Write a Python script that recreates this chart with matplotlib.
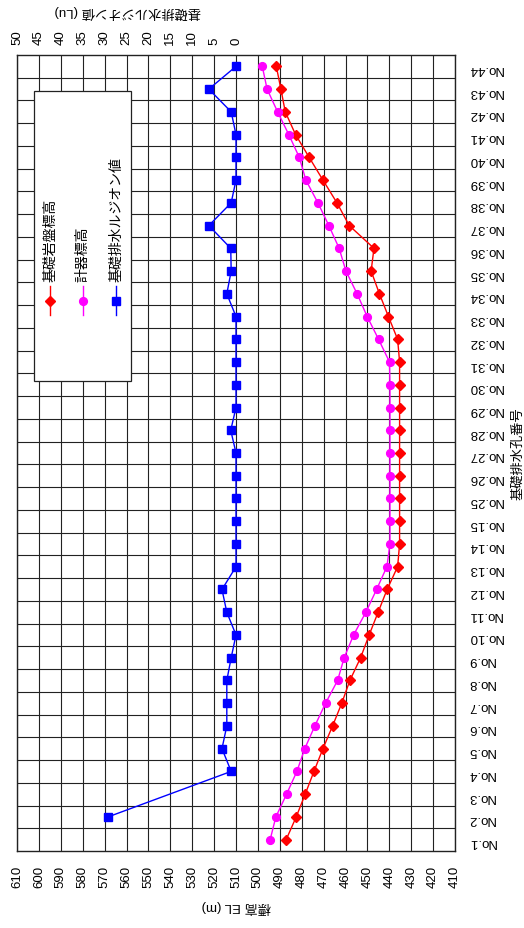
import numpy as np
import matplotlib
matplotlib.use("Agg")
import matplotlib.pyplot as plt
from matplotlib.lines import Line2D
from matplotlib.patches import Rectangle

plt.rcParams['font.family'] = ['Liberation Sans', 'Noto Sans CJK JP', 'DejaVu Sans']

# 基礎排水孔番号
holes = ['No.%d' % i for i in range(1, 16)] + ['No.%d' % i for i in range(25, 45)]

# 基礎岩盤標高 (m)
bedrock_el = [487.1, 482.5, 478.4, 474.4, 470.3, 465.9, 461.7, 458.0, 453.1, 449.2,
              445.1, 441.0, 436.2, 435.3, 435.3,
              435.3, 435.3, 435.3, 435.3, 435.3, 435.3, 435.3, 436.2, 440.4, 444.5,
              448.3, 447.0, 458.3, 463.9, 470.3, 476.6, 482.8, 487.5, 489.5, 491.6]

# 計器標高 (m)
gauge_el = [494.4, 491.8, 486.9, 482.2, 478.6, 474.0, 469.1, 463.6, 460.6, 456.3,
            450.7, 445.8, 441.1, 439.7, 439.7,
            439.7, 439.7, 439.7, 439.7, 439.7, 439.7, 439.9, 444.9, 450.1, 454.7,
            459.8, 462.9, 467.6, 472.6, 478.1, 481.1, 485.9, 491.0, 495.8, 498.0]

# 基礎排水ルジオン値 (Lu)  (No.1, No.3 は欠測)
lugeon = [np.nan, 29.2, np.nan, 1.1, 3.2, 2.1, 2.1, 2.1, 1.1, 0.0,
          2.1, 3.2, 0.0, 0.0, 0.0,
          0.0, 0.0, 0.0, 1.2, 0.0, 0.0, 0.0, 0.0, 0.0, 2.1,
          1.1, 1.2, 6.2, 1.1, 0.0, 0.0, 0.0, 1.1, 6.2, 0.0]

el_ticks = np.arange(410, 611, 10)
lu_ticks = np.arange(0, 51, 5)

pos = np.arange(len(holes))
lu = np.array(lugeon)
ok = ~np.isnan(lu)

fig = plt.figure(figsize=(5.24, 9.29), dpi=100)
ax = fig.add_axes([17 / 524, 77 / 929, 438 / 524, 796 / 929])

ax.plot(bedrock_el, pos, color='#ff0000', lw=1.0, marker='D', ms=5.2, zorder=4)
ax.plot(gauge_el, pos, color='#ff00ff', lw=1.0, marker='o', ms=5.6, zorder=4)

ax.set_xlim(610, 410)
ax.set_ylim(-0.5, len(holes) - 0.5)
ax.set_xticks(el_ticks)
ax.set_xticklabels([str(v) for v in el_ticks], rotation=90, fontsize=9.5)
ax.set_yticks(pos)
ax.set_yticklabels(holes, rotation=180, fontsize=9.5)
ax.set_yticks(pos[:-1] + 0.5, minor=True)
ax.yaxis.tick_right()
ax.tick_params(axis='x', length=0, pad=10)
ax.tick_params(axis='y', which='major', length=0, pad=9)
ax.tick_params(axis='y', which='minor', length=0)
ax.grid(True, axis='x', which='major', color='#222222', lw=0.8)
ax.grid(True, axis='y', which='minor', color='#222222', lw=0.8)
for s in ax.spines.values():
    s.set_color('#222222')
    s.set_linewidth(1.0)

ax.set_xlabel('標高 EL (m)', rotation=180, fontsize=9.5)
ax.xaxis.set_label_coords(0.5, -0.060)
ax.set_ylabel('基礎排水孔番号', rotation=90, fontsize=9.5)
ax.yaxis.set_label_position('right')
ax.yaxis.set_label_coords(1.13, 0.5)

# ルジオン値は上側の第2軸
ax2 = ax.twiny()
ax2.plot(lu[ok], pos[ok], color='#0000ff', lw=1.0, marker='s', ms=5.2, zorder=4)
ax2.set_xlim(50, -50)
ax2.set_xticks(lu_ticks)
ax2.set_xticklabels([str(v) for v in lu_ticks], rotation=90, fontsize=9.5)
ax2.tick_params(axis='x', length=0, pad=8)
ax2.set_xlabel('基礎排水ルジオン値 (Lu)', rotation=180, fontsize=9.5)
ax2.xaxis.set_label_coords((128 - 17) / 438, 1.050)
for s in ax2.spines.values():
    s.set_visible(False)

# 凡例 (縦書き)
ax2.add_patch(Rectangle((0.0388, 0.590), 0.2215, 0.365, transform=ax.transAxes,
                        facecolor='white', edgecolor='#222222', lw=0.9, zorder=5))
entries = [('基礎岩盤標高', '#ff0000', 'D', 5.2),
           ('計器標高', '#ff00ff', 'o', 5.6),
           ('基礎排水ルジオン値', '#0000ff', 's', 5.2)]
for k, (name, col, mk, size) in enumerate(entries):
    xf = 0.0753 + k * 0.0753
    ax2.add_line(Line2D([xf, xf], [0.673, 0.710], transform=ax.transAxes,
                        color=col, lw=1.0, zorder=6))
    ax2.add_line(Line2D([xf], [0.6915], transform=ax.transAxes, color=col,
                        marker=mk, ms=size, zorder=6))
    ax2.text(xf, 0.716, name, transform=ax.transAxes, rotation=90,
             ha='center', va='bottom', fontsize=10, zorder=7)

fig.savefig('out.png', dpi=100)
